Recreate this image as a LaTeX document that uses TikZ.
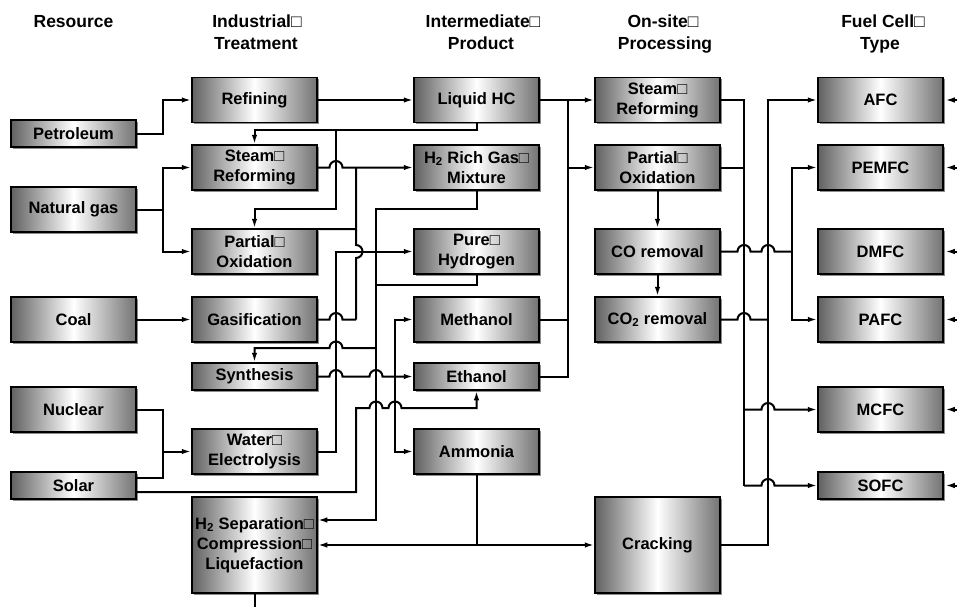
\documentclass[tikz,border=0pt]{standalone}
\usepackage{fontspec}
\setmainfont{Liberation Sans}
\usetikzlibrary{arrows.meta,shadows}
\begin{document}
\begin{tikzpicture}[x=1pt,y=1pt,
  bx/.style={draw=black, line width=1.5pt, minimum width=125pt, minimum height=45pt,
    inner sep=0pt, align=center, font=\bfseries\fontsize{16.5}{20}\selectfont,
    left color=black!62, right color=black!55, middle color=white,
    drop shadow={shadow xshift=1.8pt, shadow yshift=-1.8pt, fill=black!45, opacity=1}},
  thinbox/.style={bx, minimum height=27pt},
  tallbox/.style={bx, minimum height=96pt},
  hd/.style={anchor=base, font=\bfseries\fontsize{17.5}{20}\selectfont, inner sep=0pt},
  ln/.style={line width=2pt},
  arr/.style={ln, -{Latex[length=9.5pt,width=5.5pt]}},
]
\useasboundingbox (0,0) rectangle (957,-607);
% headers
\node[hd] (hA) at (73.5,-28) {Resource};
\node[hd] (hB1) at (257,-28) {Industrial□};
\node[hd] (hB2) at (256,-50) {Treatment};
\node[hd] (hC1) at (483,-28) {Intermediate□};
\node[hd] (hC2) at (481,-50) {Product};
\node[hd] (hD1) at (663,-28) {On-site□};
\node[hd] (hD2) at (665,-50) {Processing};
\node[hd] (hE1) at (883,-28) {Fuel Cell□};
\node[hd] (hE2) at (880,-50) {Type};
% resources
\node[thinbox] (pet) at (73.5,-133.5) {Petroleum};
\node[bx] (ng) at (73.5,-209.5) {Natural gas};
\node[bx] (coal) at (73.5,-319.5) {Coal};
\node[bx] (nuc) at (73.5,-409.5) {Nuclear};
\node[thinbox] (sol) at (73.5,-485.5) {Solar};
% industrial treatment
\node[bx] (refi) at (254.5,-100) {Refining};
\node[bx] (srI) at (254.5,-167.5) {Steam□\\Reforming};
\node[bx] (poI) at (254.5,-251.5) {Partial□\\Oxidation};
\node[bx] (gas) at (254.5,-319.5) {Gasification};
\node[thinbox] (syn) at (254.5,-376.5) {Synthesis};
\node[bx] (wel) at (254.5,-451.5) {Water□\\Electrolysis};
\node[tallbox] (hsep) at (254.5,-545) {H\textsubscript{2} Separation□\\Compression□\\Liquefaction};
% intermediate product
\node[bx] (lhc) at (476.5,-100) {Liquid HC};
\node[bx] (h2r) at (476.5,-167.5) {H\textsubscript{2} Rich Gas□\\Mixture};
\node[bx] (ph) at (476.5,-251.5) {Pure□\\Hydrogen};
\node[bx] (meth) at (476.5,-319.5) {Methanol};
\node[thinbox] (eth) at (476.5,-376.5) {Ethanol};
\node[bx] (amm) at (476.5,-451.5) {Ammonia};
% on-site processing
\node[bx] (srO) at (657.5,-100) {Steam□\\Reforming};
\node[bx] (poO) at (657.5,-167.5) {Partial□\\Oxidation};
\node[bx] (cor) at (657.5,-251.5) {CO removal};
\node[bx] (co2) at (657.5,-319.5) {CO\textsubscript{2} removal};
\node[tallbox] (crk) at (657.5,-545) {Cracking};
% fuel cells
\node[bx] (afc) at (880.5,-100) {AFC};
\node[bx] (pemfc) at (880.5,-167.5) {PEMFC};
\node[bx] (dmfc) at (880.5,-251.5) {DMFC};
\node[bx] (pafc) at (880.5,-319.5) {PAFC};
\node[bx] (mcfc) at (880.5,-409.5) {MCFC};
\node[thinbox] (sofc) at (880.5,-485.5) {SOFC};
% coordinates for free ends
\coordinate (rA) at (957,-100);
\coordinate (rB) at (957,-167.5);
\coordinate (rC) at (957,-251.5);
\coordinate (rD) at (957,-319.5);
\coordinate (rE) at (957,-409.5);
\coordinate (rF) at (957,-485.5);
\coordinate (bot) at (254.5,-607);

% resources -> industrial treatment
\draw[arr] (pet.east) -- (163,-133.5) |- (refi.west);
\draw[arr] (ng.east) -- (163,-209.5) |- (srI.west);
\draw[arr] (163,-209.5) |- (poI.west);
\draw[arr] (coal.east) -- (gas.west);
\draw[ln] (nuc.east) -| (163,-478) -- (136,-478);
\draw[arr] (163,-451.5) -- (wel.west);

% refining -> liquid HC, feedback
\draw[arr] (refi.east) -- (lhc.west);
\draw[arr] (lhc.south) |- (254.5,-130) -- (srI.north);
\draw[arr] (336,-130) |- (254.5,-209) -- (poI.north);

% steam reforming / partial oxidation / gasification -> H2 rich gas
\draw[arr] (srI.east) -- (329.5,-167.5) arc[start angle=180,end angle=0,radius=6.5pt] -- (h2r.west);
\draw[ln] (356,-167.5) -- (356,-245) arc[start angle=90,end angle=-90,radius=6.5pt] -- (356,-319.5);
\draw[ln] ([yshift=-1pt]poI.north east) -- (356,-229);
\draw[ln] (gas.east) -- (329.5,-319.5) arc[start angle=180,end angle=0,radius=6.5pt] -- (356,-319.5);

% water electrolysis -> pure hydrogen
\draw[arr] (wel.east) -- (336,-451.5) |- (ph.west);

% H2 rich gas / pure hydrogen -> synthesis, H2 separation
\draw[arr] (h2r.south) |- (376,-209) |- ([yshift=25pt]hsep.east);
\draw[ln] (ph.south) |- (376,-285);
\draw[arr] (376,-348) -- (342.5,-348) arc[start angle=0,end angle=180,radius=6.5pt] -| (syn.north);

% synthesis -> methanol, ethanol, ammonia
\draw[arr] (syn.east) -- (329.5,-376.5) arc[start angle=180,end angle=0,radius=6.5pt] -- (369.5,-376.5) arc[start angle=180,end angle=0,radius=6.5pt] -- (eth.west);
\draw[arr] (395,-376.5) |- (meth.west);
\draw[arr] (395,-376.5) |- (amm.west);

% solar -> ethanol
\draw[arr] (136,-492) -| (356,-408) -- (369.5,-408) arc[start angle=180,end angle=0,radius=6.5pt] -- (388.5,-408) arc[start angle=180,end angle=0,radius=6.5pt] -| (eth.south);

% intermediate -> on-site
\draw[arr] (lhc.east) -- (srO.west);
\draw[ln] (eth.east) -| (568,-100);
\draw[ln] (meth.east) -- (568,-319.5);
\draw[arr] (568,-167.5) -- (poO.west);
\draw[arr] (poO.south) -- (cor.north);
\draw[arr] (cor.south) -- (co2.north);

% ammonia -> H2 separation, cracking
\draw[ln] (amm.south) -- (476.5,-545);
\draw[arr] (476.5,-545) -- (hsep.east);
\draw[arr] (476.5,-545) -- (crk.west);
\draw[ln] (hsep.south) -- (bot);

% on-site -> fuel cells
\draw[ln] (srO.east) -| (744,-485.5);
\draw[ln] (poO.east) -- (744,-167.5);
\draw[arr] (744,-409.5) -- (761.5,-409.5) arc[start angle=180,end angle=0,radius=6.5pt] -- (mcfc.west);
\draw[arr] (744,-485.5) -- (761.5,-485.5) arc[start angle=180,end angle=0,radius=6.5pt] -- (sofc.west);
\draw[ln] (cor.east) -- (737.5,-251.5) arc[start angle=180,end angle=0,radius=6.5pt] -- (761.5,-251.5) arc[start angle=180,end angle=0,radius=6.5pt] -- (792,-251.5);
\draw[arr] (792,-251.5) |- (pemfc.west);
\draw[arr] (792,-251.5) |- (pafc.west);
\draw[ln] (co2.east) -- (737.5,-319.5) arc[start angle=180,end angle=0,radius=6.5pt] -- (768,-319.5);
\draw[arr] (crk.east) -| (768,-100) -- (afc.west);

% inputs from the right
\draw[arr] (rA) -- ([xshift=1.5pt]afc.east);
\draw[arr] (rB) -- ([xshift=1.5pt]pemfc.east);
\draw[arr] (rC) -- ([xshift=1.5pt]dmfc.east);
\draw[arr] (rD) -- ([xshift=1.5pt]pafc.east);
\draw[arr] (rE) -- ([xshift=1.5pt]mcfc.east);
\draw[arr] (rF) -- ([xshift=1.5pt]sofc.east);
\end{tikzpicture}
\end{document}
